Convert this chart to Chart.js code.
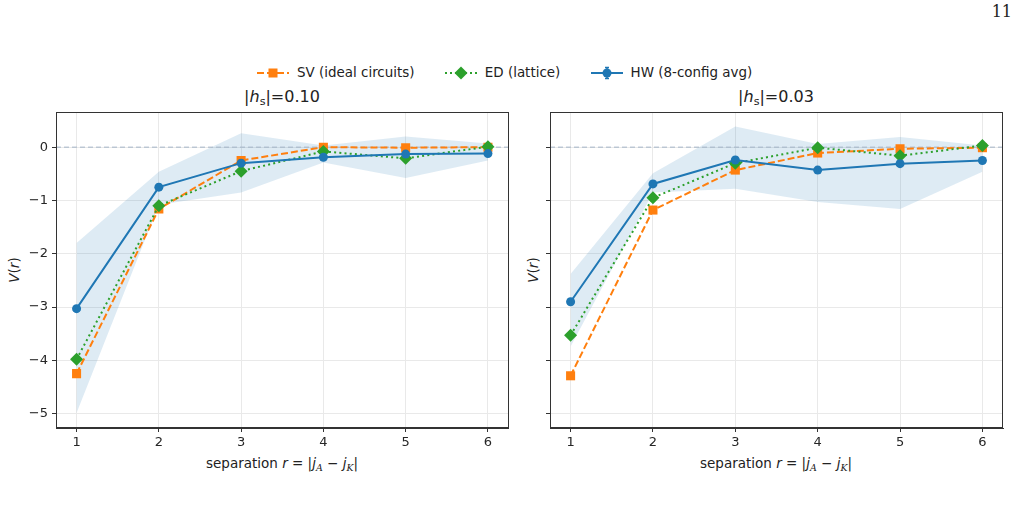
<!DOCTYPE html>
<html>
<head>
<meta charset="utf-8">
<script src="https://cdn.jsdelivr.net/npm/chart.js@4"></script>
<style>
body { margin:0; width:1018px; height:510px; position:relative; background:#fff; overflow:hidden;
       font-family:"DejaVu Sans", sans-serif; color:#222; }
canvas { position:absolute; }
.title { position:absolute; top:87px; width:300px; text-align:center; font-size:16px; line-height:20px; }
.xlab { position:absolute; top:454px; width:400px; text-align:center; font-size:13.5px; line-height:18px; }
.ylab { position:absolute; font-size:13.5px; transform:rotate(-90deg); transform-origin:center; width:60px; text-align:center; line-height:18px; }
.legend { position:absolute; top:63px; left:256px; font-size:13.45px; line-height:20px; white-space:nowrap; }
.legend span.item { display:inline-flex; align-items:center; }
.legend svg { margin-right:7px; }
.pnum { position:absolute; right:6px; top:2px; font-family:"DejaVu Serif", serif; font-size:16px; }
sub { font-size:70%; vertical-align:-3px; line-height:0; }
</style>
</head>
<body>
<div class="pnum">11</div>

<div class="legend">
  <span class="item" style="margin-right:25px">
    <svg width="34" height="14"><line x1="1" y1="7" x2="33" y2="7" stroke="#ff7f0e" stroke-width="2" stroke-dasharray="7,3"/><rect x="12.5" y="2.5" width="9" height="9" fill="#ff7f0e"/></svg>SV (ideal circuits)</span>
  <span class="item" style="margin-right:25px">
    <svg width="34" height="14"><line x1="1" y1="7" x2="33" y2="7" stroke="#2ca02c" stroke-width="2" stroke-dasharray="2,3"/><polygon points="17,0.5 23.5,7 17,13.5 10.5,7" fill="#2ca02c"/></svg>ED (lattice)</span>
  <span class="item">
    <svg width="34" height="14"><line x1="1" y1="7" x2="33" y2="7" stroke="#1f77b4" stroke-width="2"/><line x1="17" y1="1" x2="17" y2="13" stroke="#1f77b4" stroke-width="1.5"/><line x1="15" y1="1.5" x2="19" y2="1.5" stroke="#1f77b4" stroke-width="1.5"/><line x1="15" y1="12.5" x2="19" y2="12.5" stroke="#1f77b4" stroke-width="1.5"/><circle cx="17" cy="7" r="4.5" fill="#1f77b4"/></svg>HW (8-config avg)</span>
</div>

<div class="title" style="left:132px">|<i>h</i><sub>s</sub>|=0.10</div>
<div class="title" style="left:626px">|<i>h</i><sub>s</sub>|=0.03</div>

<div class="ylab" style="left:-16px; top:261px"><i>V</i>(<i>r</i>)</div>
<div class="ylab" style="left:503px; top:261px"><i>V</i>(<i>r</i>)</div>

<div class="xlab" style="left:82px">separation <i>r</i> = |<i>j</i><sub><i style="font-family:'DejaVu Serif'">A</i></sub> − <i>j</i><sub><i style="font-family:'DejaVu Serif'">K</i></sub>|</div>
<div class="xlab" style="left:576px">separation <i>r</i> = |<i>j</i><sub><i style="font-family:'DejaVu Serif'">A</i></sub> − <i>j</i><sub><i style="font-family:'DejaVu Serif'">K</i></sub>|</div>

<canvas id="c1" width="515" height="380" style="left:0; top:100px"></canvas>
<canvas id="c2" width="498" height="380" style="left:520px; top:100px"></canvas>

<script>
// separation r
const xVals = [1, 2, 3, 4, 5, 6];
const yTicks = [0, -1, -2, -3, -4, -5];
const xTicks = [1, 2, 3, 4, 5, 6];

// |h_s| = 0.10
const svA = [-4.25, -1.16, -0.25, 0.00, -0.01, 0.00];
const edA = [-3.98, -1.10, -0.45, -0.08, -0.21, 0.01];
const hwA = [-3.03, -0.75, -0.30, -0.19, -0.13, -0.12];
const hwErrA = [0.05, 0.05, 0.05, 0.05, 0.05, 0.05];
const bandHiA = [-1.80, -0.46, 0.26, 0.03, 0.20, 0.07];
const bandLoA = [-4.99, -1.08, -0.85, -0.29, -0.58, -0.25];

// |h_s| = 0.03
const svB = [-4.29, -1.18, -0.43, -0.11, -0.03, -0.01];
const edB = [-3.53, -0.95, -0.30, -0.01, -0.16, 0.03];
const hwB = [-2.90, -0.69, -0.24, -0.43, -0.31, -0.25];
const hwErrB = [0.05, 0.05, 0.05, 0.05, 0.05, 0.05];
const bandHiB = [-2.38, -0.49, 0.39, 0.06, 0.19, 0.03];
const bandLoB = [-3.74, -0.85, -0.78, -1.03, -1.16, -0.46];

const xRange = [0.75, 6.25];
const yRange = [-5.27, 0.66];

const pts = arr => arr.map((v, i) => ({ x: xVals[i], y: v }));

// error bars for the HW series
const errBars = {
    id: 'errBars',
    afterDatasetsDraw(chart) {
        const ctx = chart.ctx;
        const xs = chart.scales.x, ys = chart.scales.y;
        chart.data.datasets.forEach(ds => {
            if (!ds.errors) return;
            ctx.save();
            ctx.strokeStyle = ds.borderColor;
            ctx.lineWidth = 1.5;
            ds.data.forEach((p, i) => {
                const px = xs.getPixelForValue(p.x);
                const top = ys.getPixelForValue(p.y + ds.errors[i]);
                const bot = ys.getPixelForValue(p.y - ds.errors[i]);
                ctx.beginPath();
                ctx.moveTo(px, top); ctx.lineTo(px, bot);
                ctx.moveTo(px - 2.5, top); ctx.lineTo(px + 2.5, top);
                ctx.moveTo(px - 2.5, bot); ctx.lineTo(px + 2.5, bot);
                ctx.stroke();
            });
            ctx.restore();
        });
    }
};

// full box around the axes (top + right spines too)
const frame = {
    id: 'frame',
    afterDraw(chart) {
        const { left, top, right, bottom } = chart.chartArea;
        const ctx = chart.ctx;
        ctx.save();
        ctx.strokeStyle = '#333';
        ctx.lineWidth = 1;
        ctx.strokeRect(Math.round(left) + 0.5, Math.round(top) + 0.5, Math.round(right - left) - 1, Math.round(bottom - top) - 1);
        ctx.restore();
    }
};

function makeChart(id, sv, ed, hw, hwErr, hi, lo, showY, yWidth, padRight) {
    return new Chart(document.getElementById(id), {
        type: 'line',
        data: {
            datasets: [
                { data: pts(hw), errors: hwErr, borderColor: '#1f77b4', backgroundColor: '#1f77b4',
                  borderWidth: 2, pointRadius: 4.5, pointStyle: 'circle', pointBorderWidth: 0 },
                { data: pts(ed), borderColor: '#2ca02c', backgroundColor: '#2ca02c', borderWidth: 2,
                  borderDash: [2, 3.2], pointRadius: 6.5, pointStyle: 'rectRot', pointBorderWidth: 0 },
                { data: pts(sv), borderColor: '#ff7f0e', backgroundColor: '#ff7f0e', borderWidth: 2,
                  borderDash: [7, 3], pointRadius: 6.4, pointStyle: 'rect', pointBorderWidth: 0 },
                { data: [{ x: xRange[0], y: 0 }, { x: xRange[1], y: 0 }], borderColor: '#a3b4c6',
                  borderWidth: 1, borderDash: [5, 3], pointRadius: 0 },
                { data: pts(hi), borderWidth: 0, pointRadius: 0, backgroundColor: 'rgba(31,119,180,0.15)', fill: false },
                { data: pts(lo), borderWidth: 0, pointRadius: 0, backgroundColor: 'rgba(31,119,180,0.15)', fill: '-1' }
            ]
        },
        options: {
            responsive: false,
            animation: false,
            devicePixelRatio: 1,
            layout: { padding: { left: 0, right: padRight, top: 12, bottom: 0 } },
            plugins: { legend: { display: false }, tooltip: { enabled: false } },
            scales: {
                x: {
                    type: 'linear', min: xRange[0], max: xRange[1],
                    afterBuildTicks: s => { s.ticks = xTicks.map(v => ({ value: v })); },
                    afterFit: s => { s.height = 52; },
                    grid: { color: '#e9e9e9', tickColor: '#333', tickLength: 4, lineWidth: 1 },
                    border: { color: '#333', width: 1 },
                    ticks: { color: '#262626', font: { family: 'DejaVu Sans', size: 13 }, padding: 3, maxRotation: 0 }
                },
                y: {
                    type: 'linear', min: yRange[0], max: yRange[1],
                    afterBuildTicks: s => { s.ticks = yTicks.map(v => ({ value: v })); },
                    afterFit: s => { s.width = yWidth; },
                    grid: { color: '#e9e9e9', tickColor: '#333', tickLength: 4, lineWidth: 1 },
                    border: { color: '#333', width: 1 },
                    ticks: { display: showY, color: '#262626', font: { family: 'DejaVu Sans', size: 13 }, padding: 4,
                             callback: v => v === 0 ? '0' : '\u2212' + Math.abs(v) }
                }
            }
        },
        plugins: [errBars, frame]
    });
}

makeChart('c1', svA, edA, hwA, hwErrA, bandHiA, bandLoA, true, 56, 6);
makeChart('c2', svB, edB, hwB, hwErrB, bandHiB, bandLoB, false, 30, 15);
</script>
</body>
</html>
